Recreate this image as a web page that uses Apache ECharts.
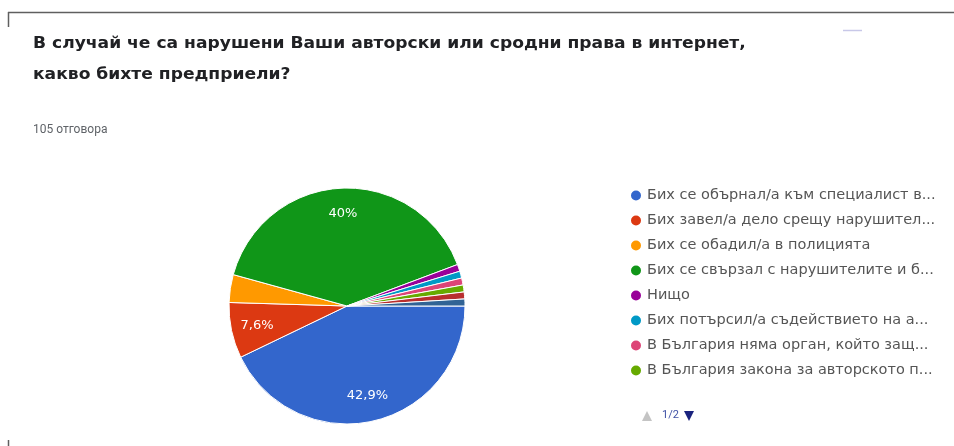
<!DOCTYPE html>
<html>
<head>
<meta charset="utf-8">
<script src="https://cdn.jsdelivr.net/npm/echarts@6/dist/echarts.min.js"></script>
<style>
html,body{margin:0;padding:0;background:#fff;}
#c{width:954px;height:446px;}
</style>
</head>
<body>
<div id="c"></div>
<script>
const titleLines = [
  "В случай че са нарушени Ваши авторски или сродни права в интернет,",
  "какво бихте предприели?"
];
const subtitle = "105 отговора";
const categories = [
  "Бих се обърнал/а към специалист в областта на авторското право",
  "Бих завел/а дело срещу нарушителя на авторските ми права",
  "Бих се обадил/а в полицията",
  "Бих се свързал с нарушителите и бих поискал да премахнат съдържанието",
  "Нищо",
  "Бих потърсил/а съдействието на адвокат или юрист",
  "В България няма орган, който защитава авторските права",
  "В България закона за авторското право не се спазва",
  "Не знам",
  "Друго"
];
const values = [45, 8, 4, 42, 1, 1, 1, 1, 1, 1];
const colors = ["#3366cc","#dc3912","#ff9900","#109618","#990099","#0099c6","#dd4477","#66aa00","#b82e2e","#316395"];
const legendPage = "1/2";
const legendPerPage = 8;

const total = values.reduce((a,b)=>a+b,0);
const data = categories.map((n,i)=>({name:n, value:values[i], itemStyle:{color:colors[i]}}));
function fmtPct(v){
  const p = v/total*100;
  if (p < 5) return '';
  let s = p.toFixed(1);
  if (s.endsWith('.0')) s = s.slice(0,-2);
  return s.replace('.', ',') + '%';
}
const legendFont = '14.5px "DejaVu Sans", sans-serif';
const mctx = document.createElement('canvas').getContext('2d');
mctx.font = legendFont;
function fit(name, maxW){
  if (mctx.measureText(name).width <= maxW) return name;
  let s = name;
  while (s.length > 1 && mctx.measureText(s + '...').width > maxW) s = s.slice(0,-1);
  return s.replace(/\s+$/,'') + '...';
}

const chart = echarts.init(document.getElementById('c'), null, {renderer:'canvas'});
chart.setOption({
  animation:false,
  backgroundColor:'#fff',
  graphic:[
    {type:'line', shape:{x1:8,y1:12.5,x2:954,y2:12.5}, style:{stroke:'#5f5f5f',lineWidth:1.5}},
    {type:'line', shape:{x1:8.5,y1:12,x2:8.5,y2:27}, style:{stroke:'#5f5f5f',lineWidth:1.5}},
    {type:'line', shape:{x1:8.5,y1:440,x2:8.5,y2:446}, style:{stroke:'#5f5f5f',lineWidth:1.5}},
    {type:'line', shape:{x1:843,y1:30.5,x2:862,y2:30.5}, style:{stroke:'#c8c8e8',lineWidth:1.5}},
    {type:'text', x:33, y:36, scaleX:1.07, style:{text:titleLines[0], font:'bold 16px "DejaVu Sans", sans-serif', fill:'#202124'}},
    {type:'text', x:33, y:67, scaleX:1.07, style:{text:titleLines[1], font:'bold 16px "DejaVu Sans", sans-serif', fill:'#202124'}},
    {type:'text', left:33, top:124, style:{text:subtitle, font:'12px Roboto, Arial, sans-serif', fill:'#5f6368'}},
    {type:'polygon', shape:{points:[[642,421],[652,421],[647,411]]}, style:{fill:'#c4c4c4'}},
    {type:'text', left:662, top:410, style:{text:legendPage, font:'11px Roboto, Arial, sans-serif', fill:'#3f51a5'}},
    {type:'polygon', shape:{points:[[684,411],[694,411],[689,421]]}, style:{fill:'#1a237e'}}
  ],
  legend:{
    orient:'vertical',
    left:624,
    top:183,
    icon:'circle',
    itemWidth:12,
    itemHeight:12,
    itemGap:10,
    data:categories.slice(0, legendPerPage),
    formatter:n=>fit(n, 290),
    textStyle:{color:'#555555', fontSize:14.5, lineHeight:14, fontFamily:'"DejaVu Sans", sans-serif'}
  },
  series:[
    {
      type:'pie',
      center:[347,306],
      radius:[0,118],
      startAngle:0,
      clockwise:true,
      silent:true,
      label:{show:false},
      labelLine:{show:false},
      itemStyle:{borderColor:'#fff', borderWidth:1},
      data:data
    },
    {
      type:'pie',
      center:[347,306],
      radius:[60,118],
      startAngle:0,
      clockwise:true,
      silent:true,
      legendHoverLink:false,
      itemStyle:{color:'rgba(0,0,0,0)', borderWidth:0},
      label:{show:true, position:'inside', color:'#fff', fontSize:13, fontFamily:'"DejaVu Sans", sans-serif',
        formatter:p=>fmtPct(p.value)},
      labelLine:{show:false},
      data:categories.map((n,i)=>({name:n, value:values[i], itemStyle:{color:'rgba(0,0,0,0)'}}))
    }
  ]
});
</script>
</body>
</html>
